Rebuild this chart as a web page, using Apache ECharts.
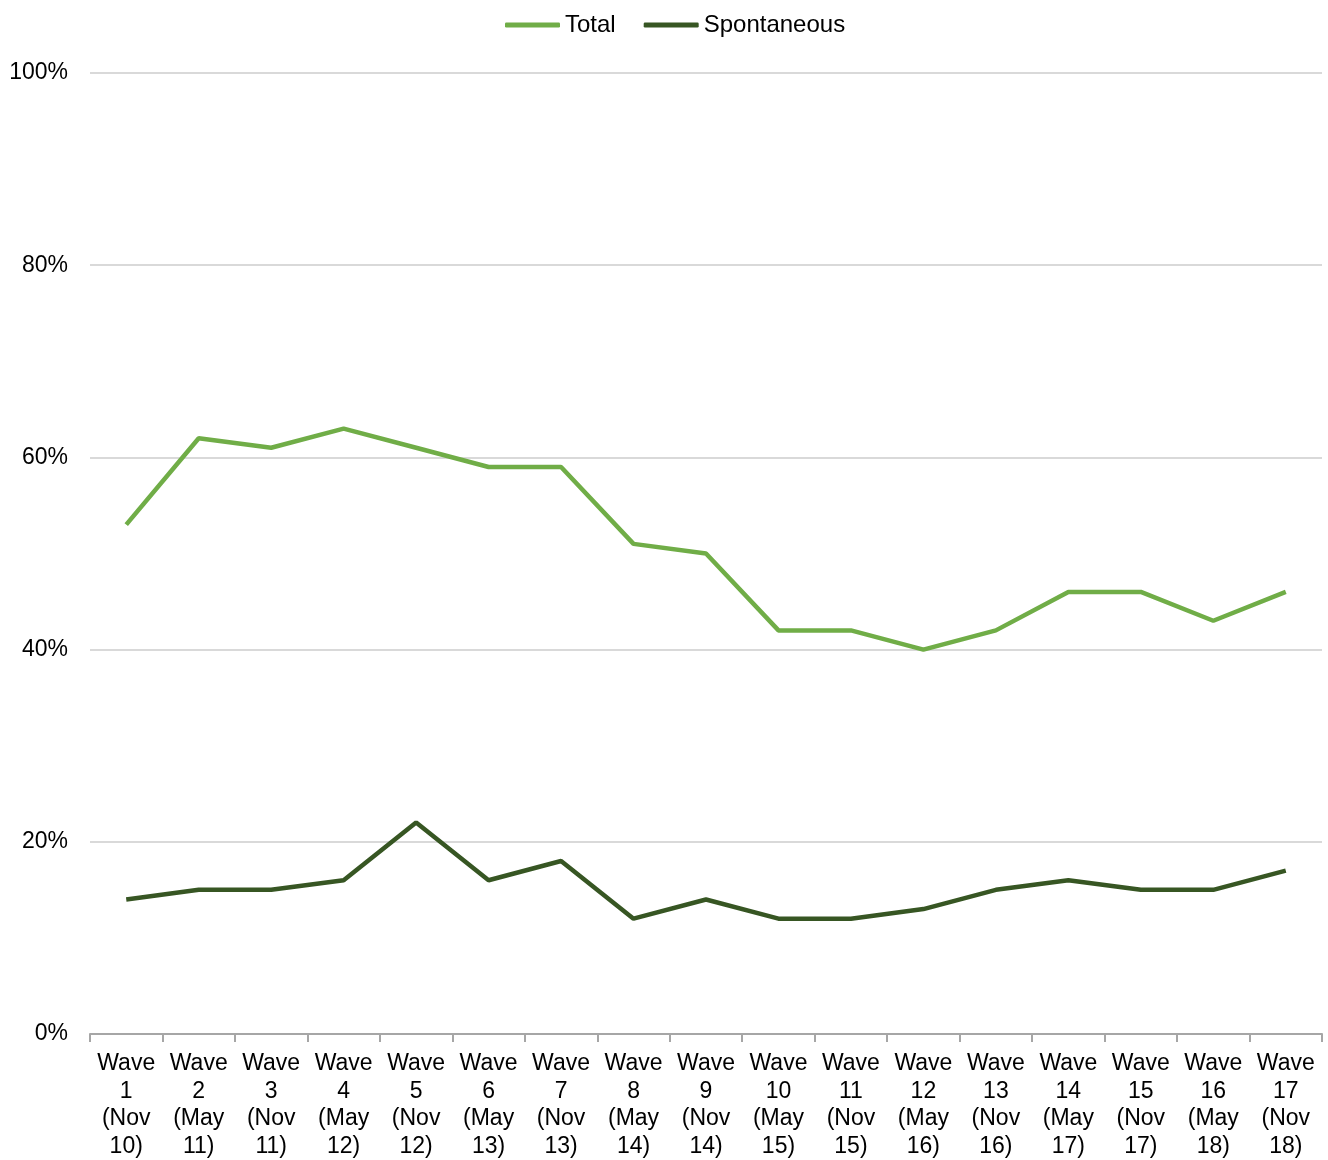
<!DOCTYPE html>
<html>
<head>
<meta charset="utf-8">
<script src="https://cdn.jsdelivr.net/npm/echarts@6/dist/echarts.min.js"></script>
<style>
  html, body { margin: 0; padding: 0; background: #fff; }
  #chart { width: 1328px; height: 1160px; }
</style>
</head>
<body>
<div id="chart"></div>
<script>
const waves = ['Wave 1 (Nov 10)', 'Wave 2 (May 11)', 'Wave 3 (Nov 11)', 'Wave 4 (May 12)', 'Wave 5 (Nov 12)',
    'Wave 6 (May 13)', 'Wave 7 (Nov 13)', 'Wave 8 (May 14)', 'Wave 9 (Nov 14)', 'Wave 10 (May 15)',
    'Wave 11 (Nov 15)', 'Wave 12 (May 16)', 'Wave 13 (Nov 16)', 'Wave 14 (May 17)', 'Wave 15 (Nov 17)',
    'Wave 16 (May 18)', 'Wave 17 (Nov 18)'];
const total = [53, 62, 61, 63, 61, 59, 59, 51, 50, 42, 42, 40, 42, 46, 46, 43, 46];
const spontaneous = [14, 15, 15, 16, 22, 16, 18, 12, 14, 12, 12, 13, 15, 16, 15, 15, 17];
const yTicks = [0, 20, 40, 60, 80, 100];

const chart = echarts.init(document.getElementById('chart'));
const font = 'Liberation Sans, Arial, sans-serif';

const option = {
    animation: false,
    textStyle: { fontFamily: font },
    legend: {
        data: [
            { name: 'Total', icon: 'roundRect', itemStyle: { color: '#70ad47' } },
            { name: 'Spontaneous', icon: 'roundRect', itemStyle: { color: '#375623' } }
        ],
        top: 8,
        left: 500,
        itemWidth: 55,
        itemHeight: 5,
        itemGap: 28,
        textStyle: { fontSize: 24, color: '#000', fontFamily: font }
    },
    grid: { left: 90, right: 6, top: 73, bottom: 125 },
    xAxis: {
        type: 'category',
        data: waves,
        boundaryGap: true,
        axisLine: { lineStyle: { color: '#a6a6a6', width: 2 } },
        axisTick: { show: true, length: 8, lineStyle: { color: '#a6a6a6', width: 2 } },
        axisLabel: {
            interval: 0,
            color: '#000',
            fontSize: 23,
            lineHeight: 27.5,
            margin: 16,
            formatter: function (v) {
                return v.split(' ').join('\n');
            }
        }
    },
    yAxis: {
        type: 'value',
        min: yTicks[0],
        max: yTicks[yTicks.length - 1],
        interval: 20,
        axisLine: { show: false },
        axisTick: { show: false },
        splitLine: { lineStyle: { color: '#d9d9d9', width: 2 } },
        axisLabel: { formatter: '{value}%', color: '#000', fontSize: 23, margin: 22 }
    },
    series: [
        {
            name: 'Total',
            type: 'line',
            data: total,
            symbol: 'none',
            lineStyle: { width: 4.5, color: '#70ad47' },
            itemStyle: { color: '#70ad47' }
        },
        {
            name: 'Spontaneous',
            type: 'line',
            data: spontaneous,
            symbol: 'none',
            lineStyle: { width: 4.5, color: '#375623' },
            itemStyle: { color: '#375623' }
        }
    ]
};
chart.setOption(option);
</script>
</body>
</html>
